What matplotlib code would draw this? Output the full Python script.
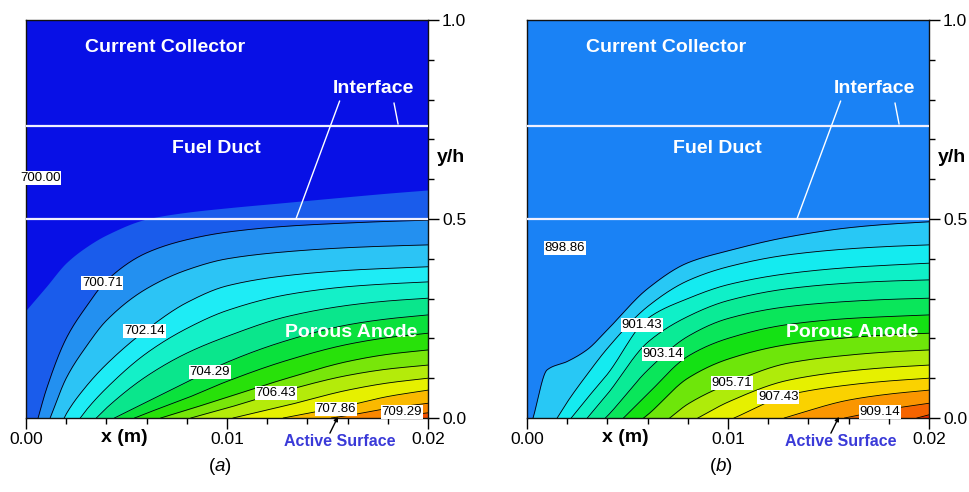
import numpy as np
import matplotlib
matplotlib.use("Agg")
import matplotlib.pyplot as plt
from matplotlib.ticker import MultipleLocator, FixedLocator

plt.rcParams['font.family'] = ['Liberation Sans', 'DejaVu Sans']
plt.rcParams['mathtext.fontset'] = 'custom'
plt.rcParams['mathtext.it'] = 'Liberation Sans:italic'
plt.rcParams['mathtext.rm'] = 'Liberation Sans'

N = np.nan
STATIONS = [0.0, 0.001, 0.002, 0.003, 0.004, 0.006, 0.008, 0.010, 0.013, 0.016, 0.018, 0.020]

########## panel (a) ##########
# x where each band edge meets the active surface (nan = edge starts on the left wall)
a_x0 = [N, 0.0006, 0.0012, 0.0019, 0.0027, 0.0035, 0.0044, 0.0054, 0.0067,
        0.0082, 0.0103, 0.0128, 0.0152, 0.0178]
a_edges = [
    [0.271, 0.33, 0.39, 0.43, 0.46, 0.50, 0.517, 0.528, 0.542, 0.556, 0.565, 0.573],
    [N, 0.07, 0.20, 0.28, 0.345, 0.415, 0.448, 0.467, 0.482, 0.490, 0.494, 0.497],
    [N, N, 0.10, 0.18, 0.245, 0.325, 0.372, 0.400, 0.418, 0.428, 0.432, 0.435],
    [N, N, 0.01, 0.08, 0.135, 0.222, 0.290, 0.332, 0.358, 0.371, 0.376, 0.380],
    [N, N, N, 0.02, 0.075, 0.163, 0.225, 0.270, 0.310, 0.330, 0.337, 0.342],
    [N, N, N, N, 0.025, 0.105, 0.163, 0.205, 0.255, 0.283, 0.294, 0.301],
    [N, N, N, N, N, 0.04, 0.09, 0.14, 0.195, 0.234, 0.249, 0.259],
    [N, N, N, N, N, 0.012, 0.05, 0.092, 0.145, 0.185, 0.202, 0.213],
    [N, N, N, N, N, N, 0.02, 0.052, 0.10, 0.142, 0.160, 0.171],
    [N, N, N, N, N, N, N, 0.025, 0.07, 0.107, 0.123, 0.133],
    [N, N, N, N, N, N, N, N, 0.032, 0.07, 0.088, 0.100],
    [N, N, N, N, N, N, N, N, 0.002, 0.031, 0.054, 0.070],
    [N, N, N, N, N, N, N, N, N, 0.006, 0.024, 0.037],
    [N, N, N, N, N, N, N, N, N, N, 0.001, 0.013],
]
a_colors = ["#0810e6", "#1a5ceb", "#2390f0", "#2cc4f5", "#1eecf5", "#14f0c8",
            "#0ae68c", "#0ae13c", "#28e10a", "#78e60a", "#b4eb0a", "#e6f000",
            "#fab900", "#fa8700", "#f55000"]
a_labels = ["700.00", "700.71", "702.14", "704.29", "706.43", "707.86", "709.29"]
a_lab_x = [0.0007, 0.0038, 0.0059, 0.00915, 0.01244, 0.01542, 0.0187]
a_lab_y = [0.603, 0.339, 0.219, 0.116, 0.063, 0.023, 0.015]

########## panel (b) ##########
b_x0 = [0.0003, 0.0015, 0.0022, 0.0030, 0.0039, 0.0048, 0.0058, 0.0071,
        0.0085, 0.0103, 0.0128, 0.0158, 0.0194]
b_edges = [
    [N, 0.121, 0.142, 0.172, 0.222, 0.325, 0.39, 0.42, 0.455, 0.478, 0.487, 0.493],
    [N, N, 0.04, 0.11, 0.175, 0.28, 0.345, 0.38, 0.41, 0.425, 0.431, 0.435],
    [N, N, N, 0.05, 0.11, 0.25, 0.30, 0.335, 0.363, 0.378, 0.384, 0.389],
    [N, N, N, N, 0.06, 0.19, 0.255, 0.295, 0.325, 0.339, 0.344, 0.347],
    [N, N, N, N, 0.005, 0.12, 0.205, 0.25, 0.28, 0.293, 0.298, 0.301],
    [N, N, N, N, N, 0.06, 0.155, 0.20, 0.235, 0.25, 0.255, 0.259],
    [N, N, N, N, N, 0.008, 0.10, 0.148, 0.185, 0.202, 0.209, 0.213],
    [N, N, N, N, N, N, 0.035, 0.085, 0.138, 0.158, 0.166, 0.171],
    [N, N, N, N, N, N, N, 0.04, 0.095, 0.118, 0.127, 0.133],
    [N, N, N, N, N, N, N, N, 0.058, 0.083, 0.093, 0.100],
    [N, N, N, N, N, N, N, N, 0.003, 0.045, 0.060, 0.070],
    [N, N, N, N, N, N, N, N, N, 0.002, 0.022, 0.037],
    [N, N, N, N, N, N, N, N, N, N, N, 0.008],
]
b_colors = ["#1a82f5", "#28c8f5", "#14ebf0", "#0ff0c8", "#0aeb96", "#0ae65a",
            "#14e114", "#6ee60a", "#afeb0a", "#e6f000", "#fad200", "#fa9600",
            "#f56400", "#f02800"]
b_labels = ["898.86", "901.43", "903.14", "905.71", "907.43", "909.14"]
b_lab_x = [0.00189, 0.00572, 0.00677, 0.0102, 0.0125, 0.01756]
b_lab_y = [0.427, 0.234, 0.161, 0.088, 0.053, 0.015]

interface_y = [0.5, 0.734]
XMAX = 0.02


def edge_points(x0, row):
    xs, ys = [], []
    if not np.isnan(x0):
        xs.append(x0)
        ys.append(0.0)
    for s, v in zip(STATIONS, row):
        if np.isnan(v):
            continue
        if np.isnan(x0) or s > x0:
            xs.append(s)
            ys.append(v)
    return np.array(xs), np.array(ys)


def smooth_through(xs, ys, xf):
    # monotone cubic (Fritsch-Carlson) through the read points
    if len(xs) < 3:
        return np.interp(xf, xs, ys, left=0.0)
    h = np.diff(xs)
    d = np.diff(ys) / h
    m = np.zeros(len(xs))
    m[0] = d[0]
    m[-1] = d[-1]
    for i in range(1, len(xs) - 1):
        if d[i - 1] * d[i] <= 0:
            m[i] = 0.0
        else:
            w1 = 2 * h[i] + h[i - 1]
            w2 = h[i] + 2 * h[i - 1]
            m[i] = (w1 + w2) / (w1 / d[i - 1] + w2 / d[i])
    out = np.zeros_like(xf)
    inside = (xf >= xs[0]) & (xf <= xs[-1])
    xi = xf[inside]
    j = np.clip(np.searchsorted(xs, xi) - 1, 0, len(xs) - 2)
    t = (xi - xs[j]) / h[j]
    h00 = 2 * t**3 - 3 * t**2 + 1
    h10 = t**3 - 2 * t**2 + t
    h01 = -2 * t**3 + 3 * t**2
    h11 = t**3 - t**2
    out[inside] = h00 * ys[j] + h10 * h[j] * m[j] + h01 * ys[j + 1] + h11 * h[j] * m[j + 1]
    return out


def draw_panel(ax, x0s, edges, colors, labels, lab_x, lab_y, letter, first_line=True):
    xf = np.linspace(0, XMAX, 1201)
    ax.fill_between([0, XMAX], 0, 1, color=colors[0], lw=0, zorder=0)
    curves = []
    for k in range(len(edges)):
        xs, ys = edge_points(x0s[k], edges[k])
        y = smooth_through(xs, ys, xf)
        ax.fill_between(xf, 0, y, color=colors[k + 1], lw=0, zorder=1)
        curves.append((xs, y))
    for k, (xs, y) in enumerate(curves):
        if k == 0 and not first_line:
            continue
        yl = np.where(xf >= xs[0], y, np.nan)
        ax.plot(xf, yl, color="black", lw=0.6, zorder=2)

    for yy in interface_y:
        ax.axhline(yy, color="#f0f0ff", lw=1.6, zorder=3)

    for s, lx, ly in zip(labels, lab_x, lab_y):
        ax.text(lx, ly, s, fontsize=9.5, ha="center", va="center", zorder=5,
                bbox=dict(boxstyle="square,pad=0.06", fc="white", ec="none"))

    bold_w = dict(color="white", fontweight="bold", fontsize=14, ha="center",
                  va="center", zorder=6)
    ax.text(0.0069, 0.932, "Current Collector", **bold_w)
    ax.text(0.0173, 0.827, "Interface", **bold_w)
    ax.text(0.00945, 0.678, "Fuel Duct", **bold_w)
    ax.text(0.0162, 0.216, "Porous Anode", **bold_w)
    ax.plot([0.01560, 0.01343], [0.796, 0.5], color="white", lw=1.0, zorder=4)
    ax.plot([0.01831, 0.01851], [0.791, 0.739], color="white", lw=1.0, zorder=4)

    ax.set_xlim(0, XMAX)
    ax.set_ylim(0, 1)
    ax.xaxis.set_major_locator(FixedLocator([0.0, 0.01, 0.02]))
    ax.xaxis.set_minor_locator(MultipleLocator(0.002))
    ax.set_xticklabels(["0.00", "0.01", "0.02"])
    ax.yaxis.tick_right()
    ax.yaxis.set_major_locator(FixedLocator([0.0, 0.5, 1.0]))
    ax.yaxis.set_minor_locator(MultipleLocator(0.1))
    ax.set_yticklabels(["0.0", "0.5", "1.0"])
    ax.tick_params(which="major", length=8, width=1, labelsize=12.5, direction="out", pad=2)
    ax.tick_params(which="minor", length=4, width=1, direction="out")
    for sp in ax.spines.values():
        sp.set_linewidth(1.0)
        sp.set_color("#111111")

    ax.annotate("x (m)", xy=(0.0049, -0.048), xycoords=("data", "axes fraction"),
                ha="center", va="center", fontsize=14, fontweight="bold")
    ax.annotate("Active Surface", xy=(0.0156, -0.058), xycoords=("data", "axes fraction"),
                ha="center", va="center", fontsize=11.5, fontweight="bold", color="#3a3ad8")
    ax.annotate("", xy=(0.01552, 0.003), xycoords=("data", "axes fraction"),
                xytext=(0.01512, -0.038), textcoords=("data", "axes fraction"),
                arrowprops=dict(arrowstyle="-|>", color="black", lw=1.0,
                                mutation_scale=6, shrinkA=0, shrinkB=0),
                annotation_clip=False)
    ax.text(1.057, 0.655, "y/h", transform=ax.transAxes, fontsize=14,
            fontweight="bold", ha="center", va="center")
    ax.text(0.483, -0.123, "(" + r"$\mathit{" + letter + "}$" + ")",
            transform=ax.transAxes, fontsize=13.5, ha="center", va="center")


fig = plt.figure(figsize=(9.69, 4.92), dpi=100)
ax_a = fig.add_axes([26 / 969, 74 / 492, 402 / 969, 398 / 492])
ax_b = fig.add_axes([527 / 969, 74 / 492, 402 / 969, 398 / 492])

draw_panel(ax_a, a_x0, a_edges, a_colors, a_labels, a_lab_x, a_lab_y, "a", first_line=False)
draw_panel(ax_b, b_x0, b_edges, b_colors, b_labels, b_lab_x, b_lab_y, "b")

fig.savefig("out.png", dpi=100)
